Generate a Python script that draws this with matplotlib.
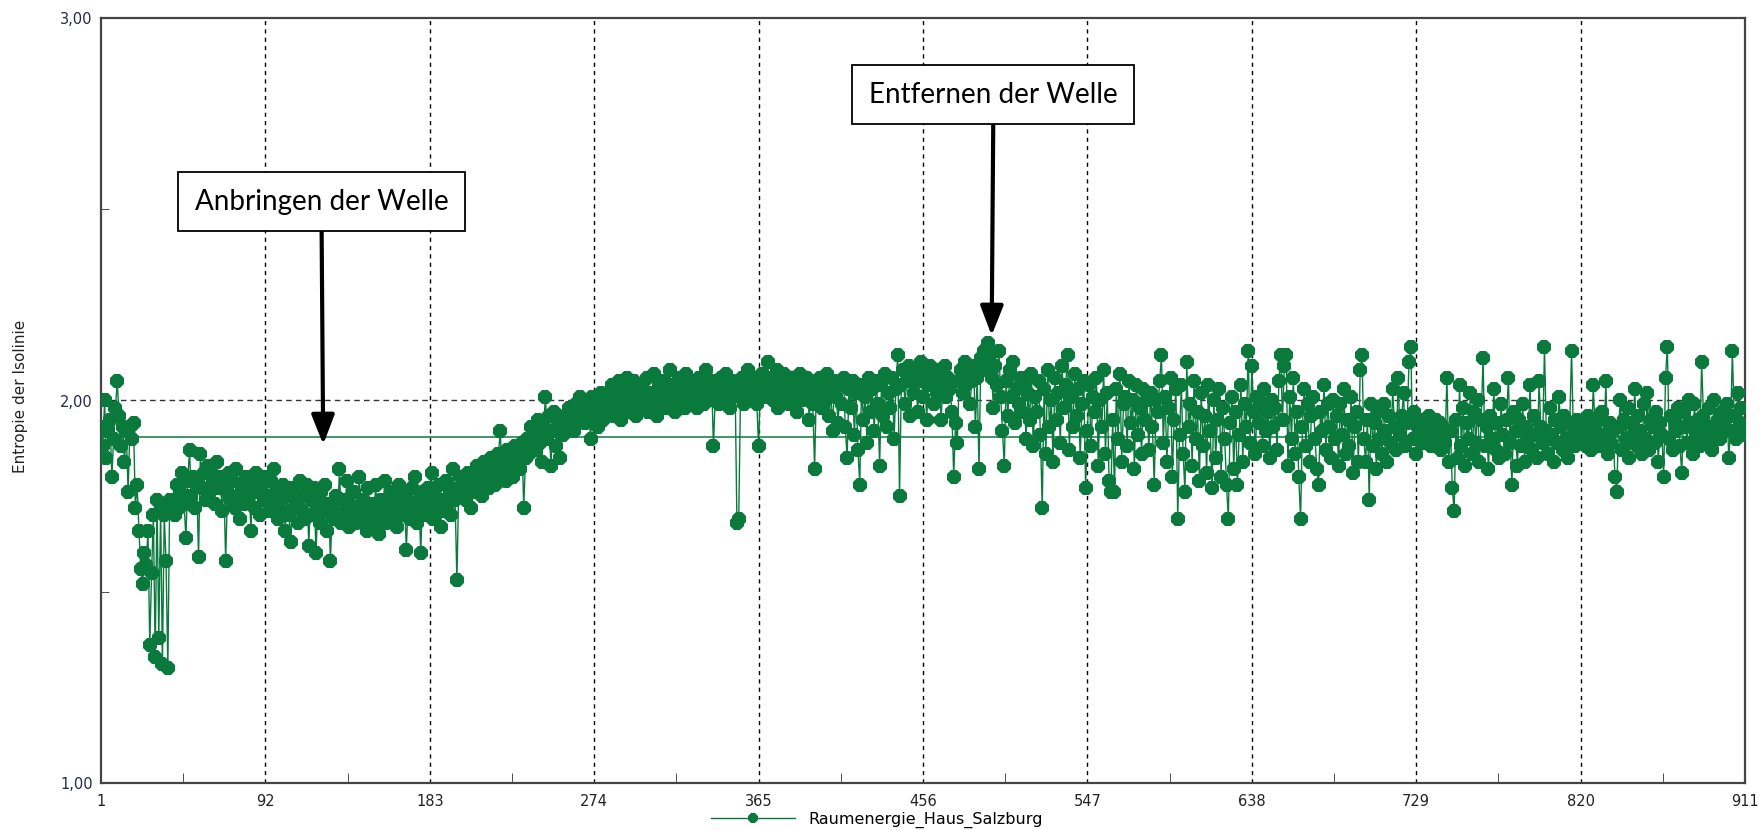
import numpy as np
import matplotlib
matplotlib.use("Agg")
import matplotlib.pyplot as plt
from matplotlib.ticker import FixedLocator, FuncFormatter

# entropy values
seg_start = [
    1.93, 1.88, 2.00, 1.85, 1.92, 1.95, 1.80, 1.90, 1.98, 2.05,
    1.96, 1.88, 1.93, 1.84, 1.92, 1.76, 1.93, 1.90, 1.94, 1.72,
    1.78, 1.66, 1.56, 1.52, 1.60, 1.57, 1.66, 1.36, 1.55, 1.70,
    1.33, 1.74, 1.38, 1.72, 1.31, 1.70, 1.58, 1.30, 1.74, 1.72,
]
seg_low = [
    1.74, 1.70, 1.78, 1.72, 1.76, 1.81, 1.73, 1.64, 1.79, 1.87,
    1.75, 1.80, 1.72, 1.78, 1.59, 1.86, 1.77, 1.81, 1.74, 1.83,
    1.76, 1.82, 1.79, 1.73, 1.84, 1.77, 1.80, 1.71, 1.78, 1.58,
    1.76, 1.81, 1.74, 1.79, 1.72, 1.82, 1.75, 1.69, 1.78, 1.73,
    1.80, 1.74, 1.77, 1.66, 1.79, 1.72, 1.81, 1.76, 1.70, 1.78,
    1.74, 1.80, 1.75, 1.71, 1.79, 1.73, 1.82, 1.76, 1.69, 1.74,
    1.71, 1.78, 1.66, 1.75, 1.70, 1.63, 1.77, 1.72, 1.74, 1.68,
    1.79, 1.71, 1.75, 1.69, 1.78, 1.62, 1.74, 1.70, 1.77, 1.60,
    1.73, 1.68, 1.76, 1.71, 1.78, 1.66, 1.73, 1.58, 1.72, 1.69,
    1.75, 1.70, 1.82, 1.68, 1.74, 1.71, 1.79, 1.67, 1.73, 1.70,
    1.76, 1.68, 1.72, 1.80, 1.69, 1.74, 1.71, 1.66, 1.77, 1.70,
    1.73, 1.68, 1.78, 1.71, 1.65, 1.74, 1.70, 1.79, 1.68, 1.73,
    1.71, 1.76, 1.69, 1.74, 1.67, 1.78, 1.72, 1.70, 1.75, 1.61,
    1.73, 1.69, 1.77, 1.71, 1.80, 1.68, 1.74, 1.60, 1.76, 1.72,
    1.70, 1.77, 1.73, 1.81, 1.69, 1.75, 1.72, 1.78, 1.67, 1.74,
    1.71, 1.79, 1.73, 1.76, 1.70, 1.82, 1.74, 1.53, 1.77, 1.80,
]
seg_rise = [
    1.76, 1.79, 1.74, 1.81, 1.77, 1.72, 1.80, 1.76, 1.83, 1.78,
    1.81, 1.75, 1.84, 1.79, 1.82, 1.77, 1.85, 1.80, 1.78, 1.83,
    1.86, 1.92, 1.81, 1.84, 1.79, 1.87, 1.83, 1.86, 1.80, 1.88,
    1.84, 1.87, 1.82, 1.89, 1.72, 1.85, 1.90, 1.86, 1.93, 1.88,
    1.91, 1.87, 1.95, 1.89, 1.84, 1.93, 2.01, 1.90, 1.96, 1.83,
    1.92, 1.97, 1.88, 1.94, 1.85, 1.95, 1.91, 1.96, 1.93, 1.98,
    1.94, 1.97, 1.92, 1.99, 1.95, 2.01, 1.96, 1.98, 1.94, 2.00,
    1.97, 1.90, 2.01, 1.96, 1.99, 1.93, 1.98, 2.02, 1.95, 2.00,
]
seg_high = [
    1.97, 2.02, 1.99, 2.04, 1.96, 2.01, 1.98, 2.05, 1.95, 2.02,
    2.00, 2.06, 1.97, 2.03, 1.99, 2.05, 1.96, 2.02, 2.04, 1.98,
    2.03, 2.00, 2.06, 1.97, 2.02, 1.99, 2.07, 2.01, 1.96, 2.04,
    2.00, 2.05, 1.98, 2.03, 2.01, 2.08, 1.99, 2.04, 1.97, 2.02,
    2.06, 2.00, 2.03, 1.98, 2.07, 2.01, 2.04, 1.99, 2.05, 2.02,
    1.98, 2.06, 2.01, 2.03, 1.99, 2.08, 2.02, 2.00, 2.05, 1.88,
    2.01, 2.04, 1.99, 2.06, 2.02, 2.00, 2.07, 2.03, 1.98, 2.05,
    2.01, 2.04, 1.68, 1.69, 2.02, 2.06, 1.99, 2.03, 2.08, 2.00,
    2.05, 2.02, 2.06, 1.99, 1.88, 2.04, 2.07, 2.01, 2.05, 2.10,
    2.03, 2.06, 2.00, 2.04, 2.08, 1.98, 2.05, 2.02, 2.07, 2.01,
    2.04, 1.99, 2.06, 2.02, 2.05, 1.97, 2.03, 2.07, 2.00, 2.04,
    2.01, 2.06, 1.95, 2.03, 1.99, 1.82, 2.04, 2.01, 2.06, 1.98,
    2.03, 2.00, 2.07, 1.96, 2.02, 1.92, 2.05, 2.01, 1.94, 2.04,
    1.99, 2.06, 1.93, 1.85, 2.03, 1.98, 2.05, 1.91, 2.02, 1.87,
    1.78, 2.04, 1.95, 2.01, 1.89, 2.06, 1.97, 2.03, 1.92, 2.05,
    1.99, 1.83, 2.04, 1.96, 2.07, 1.93, 2.02, 1.98, 2.06, 1.90,
    2.03, 2.12, 1.75, 2.04, 2.08, 1.99, 2.05, 2.09, 1.96, 2.06,
    2.02, 2.08, 1.97, 2.05, 2.10, 2.01, 2.07, 1.95, 2.04, 2.09,
]
seg_peak = [
    2.05, 1.99, 2.08, 2.02, 2.06, 1.95, 2.04, 2.09, 2.01, 2.06,
    2.03, 1.97, 1.80, 1.94, 1.89, 2.05, 2.08, 2.02, 2.10, 2.04,
    2.07, 1.99, 2.05, 2.09, 1.93, 2.06, 1.82, 2.11, 2.08, 2.13,
    2.10, 2.15, 2.12, 2.06, 1.98, 2.09, 2.04, 2.13, 2.01, 1.92,
    1.83, 2.05, 1.96, 2.08, 2.01, 2.10, 1.94, 2.03, 1.99, 2.06,
    1.97, 2.04, 1.90, 2.02, 1.95, 2.07, 1.88, 2.01, 1.97, 2.05,
]
seg_wide = [
    1.91, 1.72, 2.03, 1.86, 2.08, 1.93, 2.00, 1.84, 2.06, 1.95,
    2.02, 1.89, 2.09, 1.98, 2.04, 2.12, 1.87, 2.01, 1.93, 2.07,
    1.96, 2.03, 1.85, 1.99, 2.05, 1.77, 1.92, 2.04, 1.88, 2.01,
    1.97, 2.06, 1.83, 2.00, 1.93, 2.08, 1.86, 2.02, 1.79, 1.76,
    1.95, 1.76, 2.03, 1.90, 2.07, 1.84, 1.99, 2.01, 1.88, 2.05,
    1.94, 2.00, 1.82, 2.04, 1.91, 1.98, 1.86, 2.03, 1.95, 2.00,
    1.87, 2.02, 1.93, 1.78, 2.00, 1.97, 2.05, 2.12, 1.89, 2.01,
    1.84, 1.98, 2.06, 1.80, 1.95, 2.03, 1.69, 1.91, 2.04, 1.86,
    1.76, 2.10, 1.93, 1.99, 1.83, 2.05, 1.90, 1.97, 1.79, 2.02,
    1.88, 1.96, 1.81, 2.04, 1.92, 1.77, 2.00, 1.85, 1.95, 2.03,
    1.80, 1.98, 1.90, 1.78, 1.69, 1.94, 2.01, 1.82, 1.97, 1.78,
    1.91, 2.04, 1.84, 1.99, 1.93, 2.13, 1.89, 2.09, 1.97, 1.86,
    2.01, 1.94, 1.99, 1.88, 2.03, 1.92, 1.97, 1.85, 2.00, 1.93,
    1.98, 1.87, 2.05, 2.12, 1.95, 2.09, 2.12, 1.83, 2.01, 1.90,
    2.06, 1.86, 1.97, 1.80, 1.69, 1.93, 2.03, 1.88, 1.99, 1.84,
    1.96, 2.01, 1.90, 1.82, 1.78, 1.97, 1.92, 2.04, 1.87, 1.99,
    1.93, 1.85, 2.00, 1.90, 1.96, 1.83, 1.99, 1.91, 2.03, 1.86,
    1.95, 1.88, 2.01, 1.81, 1.93, 1.97, 1.84, 2.08, 2.12, 1.90,
]
seg_end = [
    1.84, 1.95, 1.74, 1.99, 1.88, 1.94, 1.82, 1.97, 1.90, 1.86,
    1.99, 1.92, 1.84, 1.96, 1.89, 2.03, 1.93, 1.87, 2.06, 1.91,
    1.96, 2.02, 1.88, 1.94, 2.10, 2.14, 1.90, 1.97, 1.86, 1.93,
    1.92, 1.95, 1.89, 1.94, 1.91, 1.96, 1.88, 1.93, 1.92, 1.95,
    1.90, 1.94, 1.87, 1.93, 1.89, 2.06, 1.84, 1.92, 1.77, 1.71,
    1.95, 1.85, 2.04, 1.88, 1.98, 1.83, 1.94, 1.90, 2.02, 1.86,
    1.97, 1.89, 2.00, 1.84, 1.95, 2.11, 1.88, 1.93, 1.82, 1.96,
    1.90, 2.03, 1.87, 1.94, 1.85, 1.99, 1.91, 1.86, 1.95, 2.06,
    1.89, 1.78, 1.97, 1.92, 1.83, 1.95, 1.88, 1.99, 1.84, 1.93,
    1.90, 2.04, 1.87, 1.96, 1.91, 1.85, 2.05, 1.93, 1.89, 2.14,
    1.92, 1.86, 1.98, 1.91, 1.84, 1.95, 1.89, 2.01, 1.93, 1.87,
    1.96, 1.90, 1.85, 1.94, 2.13, 1.91, 1.88, 1.95, 1.92, 1.90,
    1.89, 1.94, 1.88, 1.96, 1.91, 1.87, 2.04, 1.93, 1.90, 1.95,
    1.88, 1.97, 1.91, 2.05, 1.86, 1.94, 1.89, 1.92, 1.80, 1.76,
    1.93, 2.00, 1.87, 1.95, 1.90, 1.98, 1.85, 1.94, 1.91, 2.03,
    1.88, 1.96, 1.92, 1.86, 1.99, 1.90, 2.02, 1.87, 1.95, 1.93,
    1.89, 1.97, 1.84, 1.94, 1.91, 1.80, 2.06, 2.14, 1.90, 1.96,
    1.87, 1.95, 1.92, 1.98, 1.88, 1.81, 1.97, 1.93, 1.89, 2.00,
    1.94, 1.86, 1.99, 1.91, 1.95, 1.88, 2.10, 1.96, 1.92, 1.89,
    1.98, 1.93, 1.87, 2.00, 1.91, 1.95, 1.90, 1.97, 1.94, 1.93,
    1.99, 1.85, 1.92, 2.13, 1.96, 1.90, 2.02, 1.94, 1.98, 1.91,
    1.92,
]
mean_level = 1.905

x_ticks = [1, 92, 183, 274, 365, 456, 547, 638, 729, 820, 911]
y_ticks = [1.0, 2.0, 3.0]
series_name = "Raumenergie_Haus_Salzburg"
y_label = "Entropie der Isolinie"
notes = ["Anbringen der Welle", "Entfernen der Welle"]
note_xy = [(124, 1.885), (494, 2.17)]      # arrow tips
note_box = [(123, 2.52), (495, 2.80)]      # box centres

values = np.array(seg_start + seg_low + seg_rise + seg_high + seg_peak + seg_wide + seg_end)
idx = np.arange(1, len(values) + 1)

green = "#0a7a3c"

fig = plt.figure(figsize=(17.64, 8.30), dpi=100)
ax = fig.add_axes([101 / 1764, 47 / 830, 1644 / 1764, 765 / 830])

line, = ax.plot(idx, values, color=green, lw=1.0, marker="8", ms=10.5,
                mec=green, mfc=green, mew=0, label=series_name, zorder=3)
ax.axhline(mean_level, color=green, lw=1.1, zorder=2)

ax.set_xlim(1, 911)
ax.set_ylim(1.0, 3.0)

ax.xaxis.set_major_locator(FixedLocator(x_ticks))
ax.xaxis.set_minor_locator(FixedLocator([(a + b) / 2 for a, b in zip(x_ticks[:-1], x_ticks[1:])]))
ax.yaxis.set_major_locator(FixedLocator(y_ticks))
ax.yaxis.set_minor_locator(FixedLocator([1.5, 2.5]))
ax.yaxis.set_major_formatter(FuncFormatter(lambda v, p: f"{v:.2f}".replace(".", ",")))

ax.tick_params(axis="x", which="major", length=0, pad=8, labelsize=10.5, labelcolor="#222222")
ax.tick_params(axis="x", which="minor", length=7, direction="in", color="#333333")
ax.tick_params(axis="y", which="major", length=0, pad=6, labelsize=10.5, labelcolor="#26264a")
ax.tick_params(axis="y", which="minor", length=6, direction="in", color="#333333")

for v in x_ticks[1:-1]:
    ax.axvline(v, color="black", lw=1.0, ls=(0, (3, 3)), zorder=1)
ax.axhline(2.0, color="#333333", lw=1.0, ls=(0, (4, 3)), zorder=1)

for s in ax.spines.values():
    s.set_color("#444444")
    s.set_linewidth(1.6)

fig.text(21 / 1764, 0.522, y_label, rotation=90, va="center", ha="center",
         fontsize=11, color="#222222")

for text, tip, box in zip(notes, note_xy, note_box):
    ax.annotate(text, xy=tip, xytext=box, ha="center", va="center",
                fontsize=20, family="Lato", color="black",
                bbox=dict(boxstyle="square,pad=0.6", fc="white", ec="black", lw=1.3),
                arrowprops=dict(arrowstyle="-|>,head_length=0.9,head_width=0.35",
                                color="black", lw=3, shrinkA=0, shrinkB=0),
                zorder=5)

fig.legend(handles=[line], loc="center", bbox_to_anchor=(0.497, 0.012),
           frameon=False, fontsize=11.5, handlelength=5.3, handletextpad=0.8,
           numpoints=1, markerscale=0.8)

fig.savefig("out.png", dpi=100)
